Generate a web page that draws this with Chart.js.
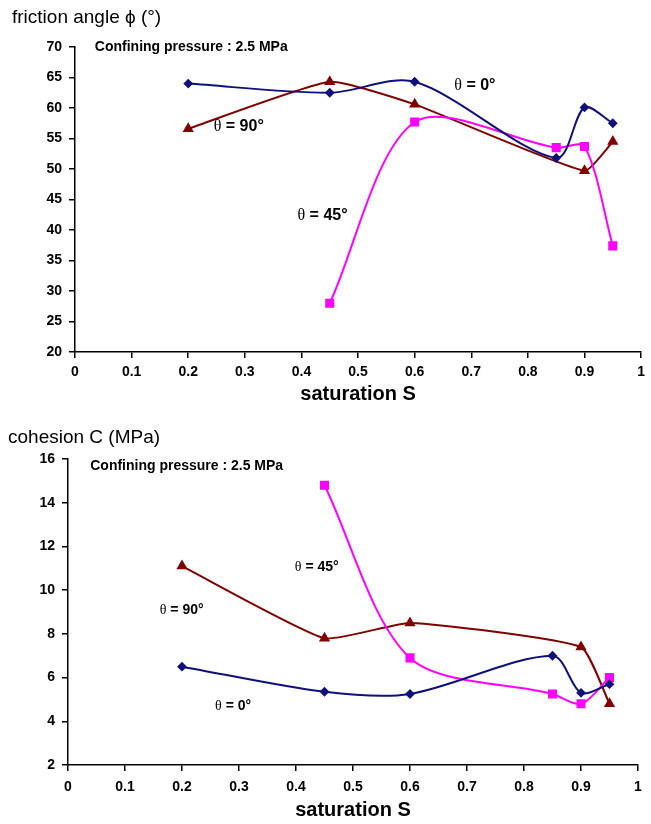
<!DOCTYPE html>
<html>
<head>
<meta charset="utf-8">
<script src="https://cdn.jsdelivr.net/npm/chart.js@4.4.1/dist/chart.umd.min.js"></script>
<style>
  html, body { margin: 0; padding: 0; background: #fff; }
  #wrap { position: relative; width: 651px; height: 824px; }
  .box { position: absolute; left: 0; width: 651px; }
</style>
</head>
<body>
<div id="wrap">
  <div class="box" style="top:0;height:408px"><canvas id="phiChart"></canvas></div>
  <div class="box" style="top:408px;height:416px"><canvas id="cohChart"></canvas></div>
</div>
<script>
// saturation values of each series
const sat0  = [0.2, 0.45, 0.6, 0.85, 0.9, 0.95];
const sat90 = [0.2, 0.45, 0.6, 0.9, 0.95];
const sat45 = [0.45, 0.6, 0.85, 0.9, 0.95];

// friction angle (deg)
const phi0  = [64.0, 62.5, 64.3, 51.8, 60.1, 57.5];
const phi90 = [56.6, 64.3, 60.6, 49.7, 54.5];
const phi45 = [28.0, 57.7, 53.5, 53.7, 37.4];

// cohesion (MPa)
const coh0  = [6.5, 5.35, 5.25, 7.0, 5.3, 5.7];
const coh90 = [11.1, 7.8, 8.5, 7.4, 4.8];
const coh45 = [14.8, 6.9, 5.25, 4.8, 6.0];

// tick labels
const satTicks = [0, 0.1, 0.2, 0.3, 0.4, 0.5, 0.6, 0.7, 0.8, 0.9, 1];
const phiTicks = [20, 25, 30, 35, 40, 45, 50, 55, 60, 65, 70];
const cohTicks = [2, 4, 6, 8, 10, 12, 14, 16];

const NAVY = '#10107a', DARKRED = '#800000', MAGENTA = '#ff00ff';
const SANS = 'Arial, "Liberation Sans", sans-serif';
const SERIF = '"Times New Roman", "Liberation Serif", serif';

function pts(xs, ys) {
    return xs.map((x, i) => ({ x: x, y: ys[i] }));
}

function buildDatasets(y0, y45, y90) {
    const common = { borderWidth: 2, fill: false };
    return [
        Object.assign({ label: 'θ = 0°', data: pts(sat0, y0), borderColor: NAVY, backgroundColor: NAVY,
            pointStyle: 'rectRot', pointRadius: 3.5, tension: 0.3 }, common),
        Object.assign({ label: 'θ = 45°', data: pts(sat45, y45), borderColor: MAGENTA, backgroundColor: MAGENTA,
            pointStyle: 'rect', pointRadius: 5, tension: 0.3 }, common),
        Object.assign({ label: 'θ = 90°', data: pts(sat90, y90), borderColor: DARKRED, backgroundColor: DARKRED,
            pointStyle: 'triangle', pointRadius: 4.5, tension: 0.15 }, common)
    ];
}

// text drawn on top of the plot, anchored in data units
const notesPlugin = {
    id: 'notes',
    afterDraw(chart, args, opts) {
        const ctx = chart.ctx;
        const xs = chart.scales.x, ys = chart.scales.y;
        ctx.save();
        ctx.fillStyle = '#000';
        ctx.textBaseline = 'middle';
        ctx.textAlign = 'left';
        ctx.font = opts.titleFont;
        ctx.fillText(opts.title, opts.titleX, opts.titleY);
        (opts.items || []).forEach(it => {
            let px = xs.getPixelForValue(it.x);
            const py = ys.getPixelForValue(it.y);
            if (it.theta) {
                ctx.font = it.size + 'px ' + SERIF;
                ctx.fillText('θ', px, py);
                px += ctx.measureText('θ').width;
            }
            ctx.font = 'bold ' + it.size + 'px ' + SANS;
            ctx.fillText(it.text, px, py);
        });
        ctx.restore();
    }
};

function makeChart(id, datasets, cfg) {
    const tickFont = { family: SANS, size: 14, weight: 'bold' };
    return new Chart(document.getElementById(id), {
        type: 'line',
        data: { datasets: datasets },
        plugins: [notesPlugin],
        options: {
            responsive: true,
            maintainAspectRatio: false,
            animation: false,
            layout: { padding: { top: cfg.top, right: cfg.right, left: 0, bottom: 0 } },
            plugins: {
                legend: { display: false },
                tooltip: { enabled: false },
                notes: cfg.notes
            },
            scales: {
                x: {
                    type: 'linear', min: 0, max: 1,
                    afterBuildTicks: s => { s.ticks = satTicks.map(v => ({ value: v })); },
                    afterFit: s => { s.height = cfg.xHeight; },
                    grid: { drawOnChartArea: false, drawTicks: true, tickLength: 6, color: '#000', lineWidth: 1.5 },
                    border: { display: true, color: '#000', width: 1.5 },
                    ticks: { color: '#000', font: tickFont, padding: cfg.xPad, maxRotation: 0, callback: v => String(v) },
                    title: { display: true, text: 'saturation S', color: '#000',
                        font: { family: SANS, size: 20, weight: 'bold' }, padding: { top: 0, bottom: 2 } }
                },
                y: {
                    type: 'linear', min: cfg.yTicks[0], max: cfg.yTicks[cfg.yTicks.length - 1],
                    afterBuildTicks: s => { s.ticks = cfg.yTicks.map(v => ({ value: v })); },
                    afterFit: s => { s.width = cfg.yWidth; },
                    grid: { drawOnChartArea: false, drawTicks: true, tickLength: 6, color: '#000', lineWidth: 1.5 },
                    border: { display: true, color: '#000', width: 1.5 },
                    ticks: { color: '#000', font: tickFont, padding: 7 }
                }
            }
        }
    });
}

makeChart('phiChart', buildDatasets(phi0, phi45, phi90), {
    top: 47, right: 4, xHeight: 56, xPad: 6, yWidth: 75, yTicks: phiTicks,
    notes: {
        title: 'friction angle ϕ (°)', titleX: 12, titleY: 18, titleFont: '19px ' + SANS,
        items: [
            { text: 'Confining pressure : 2.5 MPa', x: 0.035, y: 70.0, size: 14 },
            { theta: true, text: ' = 0°', x: 0.670, y: 63.6, size: 16 },
            { theta: true, text: ' = 90°', x: 0.245, y: 56.9, size: 16 },
            { theta: true, text: ' = 45°', x: 0.393, y: 42.3, size: 16 }
        ]
    }
});

makeChart('cohChart', buildDatasets(coh0, coh45, coh90), {
    top: 51, right: 13, xHeight: 59, xPad: 8, yWidth: 68, yTicks: cohTicks,
    notes: {
        title: 'cohesion C (MPa)', titleX: 8, titleY: 30, titleFont: '19px ' + SANS,
        items: [
            { text: 'Confining pressure : 2.5 MPa', x: 0.039, y: 15.68, size: 14 },
            { theta: true, text: ' = 45°', x: 0.398, y: 11.06, size: 14 },
            { theta: true, text: ' = 90°', x: 0.161, y: 9.09, size: 14 },
            { theta: true, text: ' = 0°', x: 0.258, y: 4.70, size: 14 }
        ]
    }
});
</script>
</body>
</html>
